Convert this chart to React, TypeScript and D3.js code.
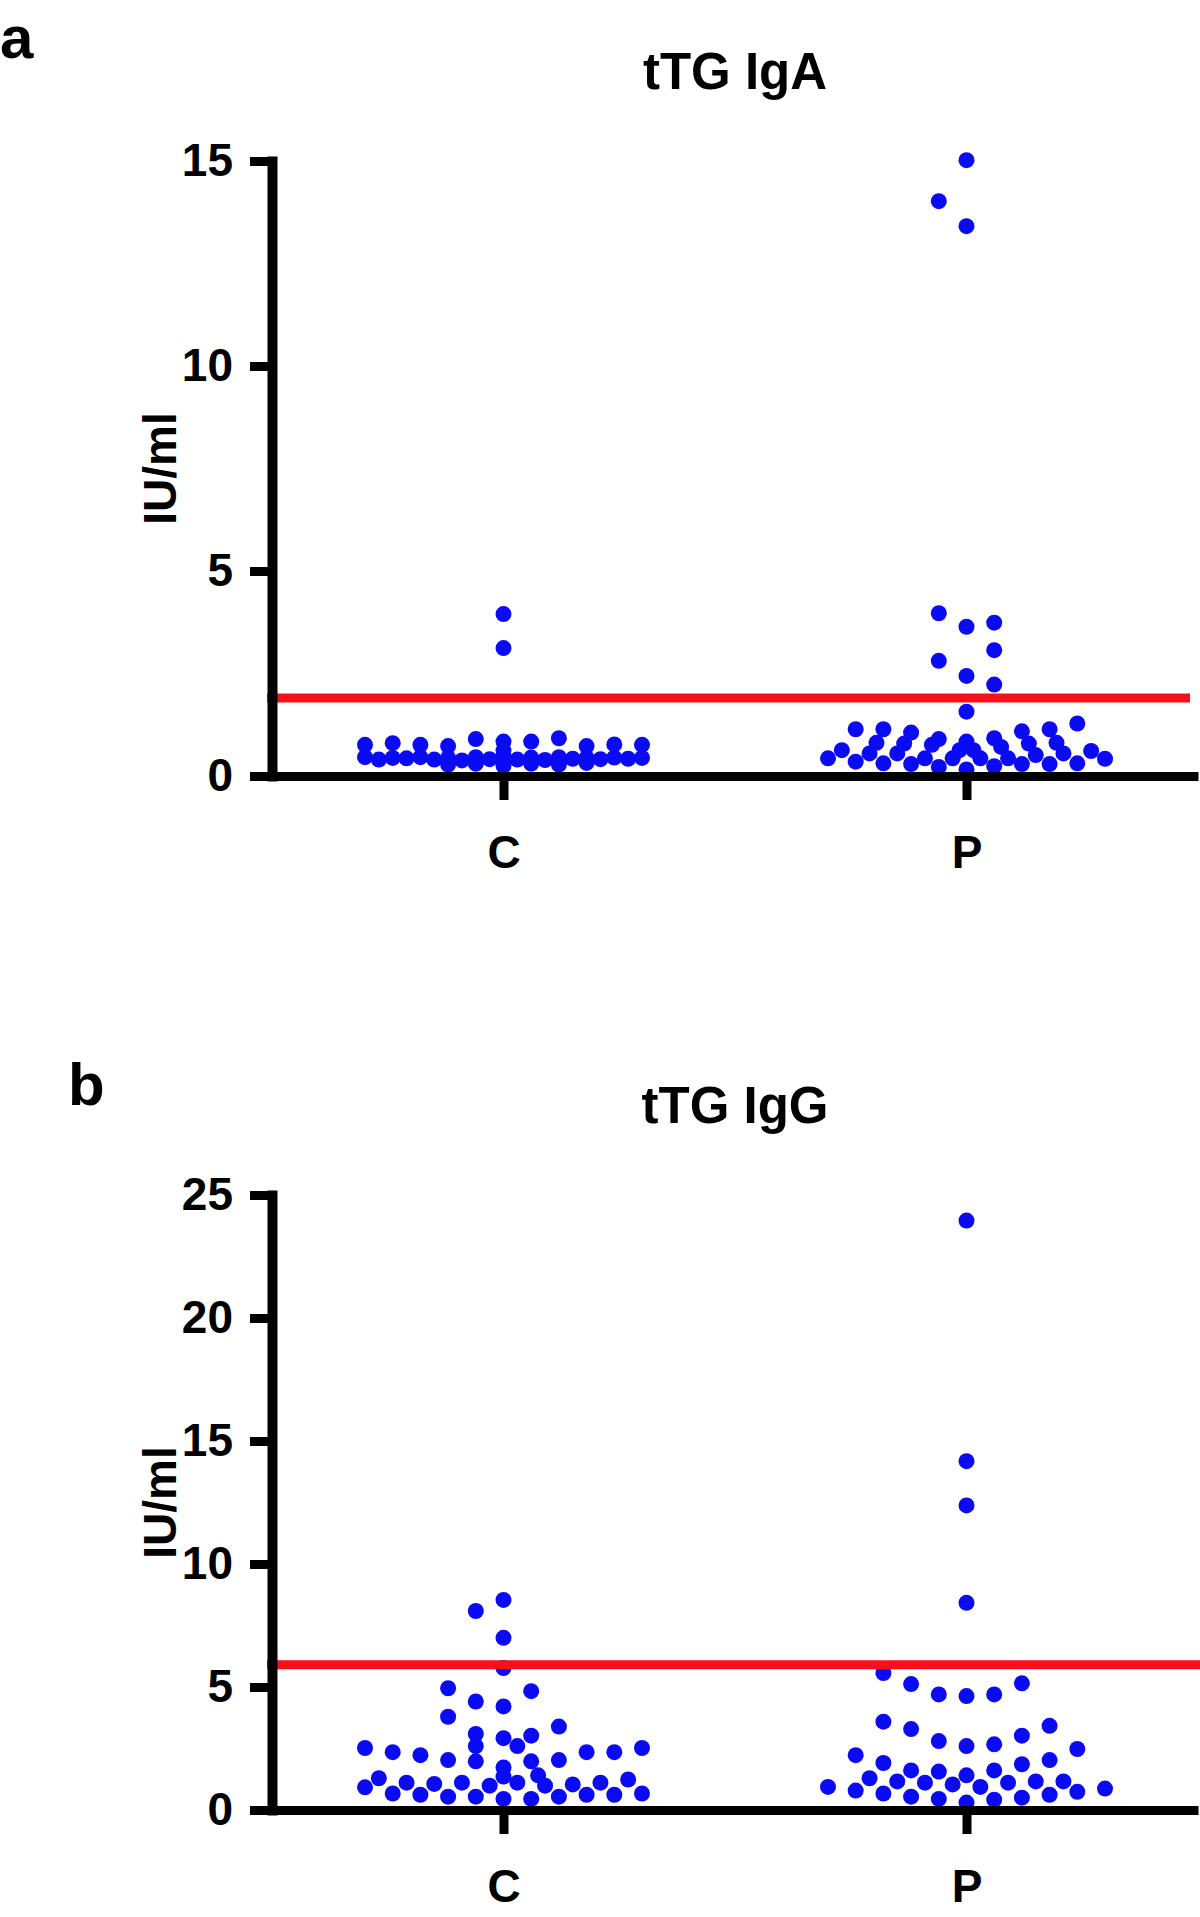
import React, { useEffect, useRef } from "react";
import * as d3 from "d3";

// each dot: [IU/ml, swarm lane] - lane is the sideways slot GraphPad put the dot in
type Dot = [number, number];

const groups = ["C", "P"];

const igaTicks = [0, 5, 10, 15];
const iggTicks = [0, 5, 10, 15, 20, 25];

const igaCutoff = 1.9;
const iggCutoff = 5.9;

const igaControl: Dot[] = [
  [3.95, 0], [3.12, 0],
  [0.76, -10], [0.8, -8], [0.76, -6], [0.73, -4], [0.9, -2], [0.84, 0],
  [0.84, 2], [0.92, 4], [0.73, 6], [0.77, 8], [0.76, 10], [0.62, 0],
  [0.46, -10], [0.4, -9], [0.44, -8], [0.43, -7], [0.46, -6], [0.4, -5],
  [0.44, -4], [0.38, -3], [0.46, -2], [0.41, -1], [0.47, 0], [0.4, 1],
  [0.45, 2], [0.39, 3], [0.46, 4], [0.42, 5], [0.44, 6], [0.41, 7],
  [0.45, 8], [0.42, 9], [0.44, 10],
  [0.28, -4], [0.3, -2], [0.25, 0], [0.3, 2], [0.28, 4], [0.32, 6],
];

const igaPatients: Dot[] = [
  [15.02, 0], [14.02, -2], [13.41, 0],
  [3.97, -2], [3.64, 0], [3.74, 2], [2.81, -2], [3.07, 2], [2.44, 0],
  [2.23, 2], [1.57, 0],
  [1.14, -8], [1.14, -6], [1.06, -4], [0.9, -2], [0.84, 0], [0.92, 2],
  [1.09, 4], [1.14, 6], [1.28, 8],
  [0.63, -9], [0.43, -10], [0.55, -7], [0.81, -6.5], [0.35, -8], [0.31, -6],
  [0.55, -5], [0.79, -4.5], [0.29, -4], [0.43, -3], [0.76, -2.5], [0.22, -2],
  [0.43, -1], [0.63, -0.5], [0.16, 0], [0.63, 0.5], [0.43, 1], [0.24, 2],
  [0.71, 2.5], [0.43, 3], [0.29, 4], [0.79, 4.5], [0.51, 5], [0.29, 6],
  [0.81, 6.5], [0.55, 7], [0.31, 8], [0.61, 9], [0.42, 10],
];

const iggControl: Dot[] = [
  [8.54, 0], [8.09, -2], [7.0, 0], [5.77, 0], [4.95, -4], [4.83, 2],
  [4.41, -2], [4.21, 0], [3.79, -4], [3.39, 4], [3.09, -2], [3.02, 2],
  [2.92, 0], [2.6, 1], [2.52, -10], [2.35, -8], [2.23, -6], [2.35, 6],
  [2.35, 8], [2.52, 10], [2.6, -2], [2.03, -4], [1.98, -2], [1.98, 2],
  [2.03, 4], [1.73, 0], [1.29, -9], [1.11, -7], [1.06, -5], [1.11, -3],
  [0.99, -1], [1.36, 0], [1.11, 1], [1.41, 2.5], [0.99, 3], [1.04, 5],
  [1.11, 7], [1.24, 9], [0.92, -10], [0.67, -8], [0.62, -6], [0.54, -4],
  [0.54, -2], [0.45, 0], [0.45, 2], [0.54, 4], [0.62, 6], [0.62, 8],
  [0.67, 10],
];

const iggPatients: Dot[] = [
  [23.96, 0], [14.18, 0], [12.38, 0], [8.42, 0],
  [5.57, -6], [5.12, -4], [4.7, -2], [4.63, 0], [4.7, 2], [5.15, 4],
  [3.59, -6], [3.29, -4], [2.8, -2], [2.6, 0], [2.67, 2], [3.02, 4],
  [3.42, 6], [2.48, 8], [2.23, -8], [1.91, -6], [1.61, -4], [1.56, -2],
  [1.41, 0], [1.61, 2], [1.86, 4], [2.03, 6], [1.29, -7], [1.16, -5],
  [1.11, -3], [1.04, -1], [0.94, 1], [1.11, 3], [1.16, 5], [1.16, 7],
  [0.94, -10], [0.79, -8], [0.67, -6], [0.54, -4], [0.45, -2], [0.3, 0],
  [0.42, 2], [0.5, 4], [0.62, 6], [0.74, 8], [0.87, 10],
];

const FONT = "'Liberation Sans', Arial, Helvetica, sans-serif";
const BLUE = "#0a0af4";
const RED = "#f5101c";

const plotLeft = 272;
const plotRight = 1198;
const plotH = 615;

interface PanelCfg {
  letter: string;
  letterX: number;
  letterY: number;
  title: string;
  top: number;
  max: number;
  ticks: number[];
  cutoff: number;
  lineEnd: number;
  data: Dot[][];
}

const panels: PanelCfg[] = [
  {
    letter: "a", letterX: 0, letterY: 58, title: "tTG IgA", top: 161, max: 15,
    ticks: igaTicks, cutoff: igaCutoff, lineEnd: 1190, data: [igaControl, igaPatients],
  },
  {
    letter: "b", letterX: 68, letterY: 1105, title: "tTG IgG", top: 1195, max: 25,
    ticks: iggTicks, cutoff: iggCutoff, lineEnd: 1200, data: [iggControl, iggPatients],
  },
];

function boldText(sel: d3.Selection<any, any, any, any>, size: number) {
  sel.attr("font-family", FONT).attr("font-weight", "bold").attr("font-size", size).attr("fill", "#000");
}

function drawPanel(svg: d3.Selection<SVGSVGElement, unknown, null, undefined>, cfg: PanelCfg) {
  const x = d3.scalePoint<string>().domain(groups).range([plotLeft, plotRight]).padding(0.5);
  const y = d3.scaleLinear().domain([0, cfg.max]).range([plotH, 0]);
  const lane = d3.scaleLinear().domain([0, 1]).range([0, 13.85]);

  boldText(svg.append("text").attr("x", cfg.letterX).attr("y", cfg.letterY).text(cfg.letter), 60);

  const g = svg.append("g").attr("transform", `translate(0,${cfg.top})`);

  boldText(
    g.append("text")
      .attr("x", (plotLeft + plotRight) / 2)
      .attr("y", -72)
      .attr("text-anchor", "middle")
      .text(cfg.title),
    51
  );

  // y axis title
  boldText(
    g.append("text")
      .attr("transform", `translate(176,${plotH / 2}) rotate(-90)`)
      .attr("text-anchor", "middle")
      .text("IU/ml"),
    46
  );

  // dots
  groups.forEach((grp, i) => {
    g.append("g")
      .selectAll("circle")
      .data(cfg.data[i])
      .join("circle")
      .attr("cx", (d) => (x(grp) || 0) + lane(d[1]))
      .attr("cy", (d) => y(d[0]))
      .attr("r", 8)
      .attr("fill", BLUE);
  });

  // cutoff line
  g.append("line")
    .attr("x1", plotLeft - 5)
    .attr("x2", cfg.lineEnd)
    .attr("y1", y(cfg.cutoff))
    .attr("y2", y(cfg.cutoff))
    .attr("stroke", RED)
    .attr("stroke-width", 9);

  const ya = g.append("g")
    .attr("transform", `translate(${plotLeft},0)`)
    .call(d3.axisLeft(y).tickValues(cfg.ticks).tickSize(22).tickSizeOuter(0).tickPadding(17));
  ya.select(".domain").attr("stroke-width", 10).attr("stroke-linecap", "square");
  ya.selectAll(".tick line").attr("stroke-width", 9);
  boldText(ya.selectAll(".tick text"), 46);

  const xa = g.append("g")
    .attr("transform", `translate(0,${plotH})`)
    .call(d3.axisBottom(x).tickSize(24).tickSizeOuter(0).tickPadding(35));
  xa.select(".domain").attr("stroke-width", 9);
  xa.selectAll(".tick line").attr("stroke-width", 9);
  boldText(xa.selectAll(".tick text"), 46);
}

const App: React.FC = () => {
  const ref = useRef<SVGSVGElement | null>(null);

  useEffect(() => {
    document.body.style.margin = "0";
    if (!ref.current) return;
    const svg = d3.select(ref.current);
    svg.selectAll("*").remove();
    panels.forEach((p) => drawPanel(svg, p));
  }, []);

  return <svg ref={ref} width={1200} height={1917} style={{ display: "block", background: "#fff" }}></svg>;
};

export default App;
